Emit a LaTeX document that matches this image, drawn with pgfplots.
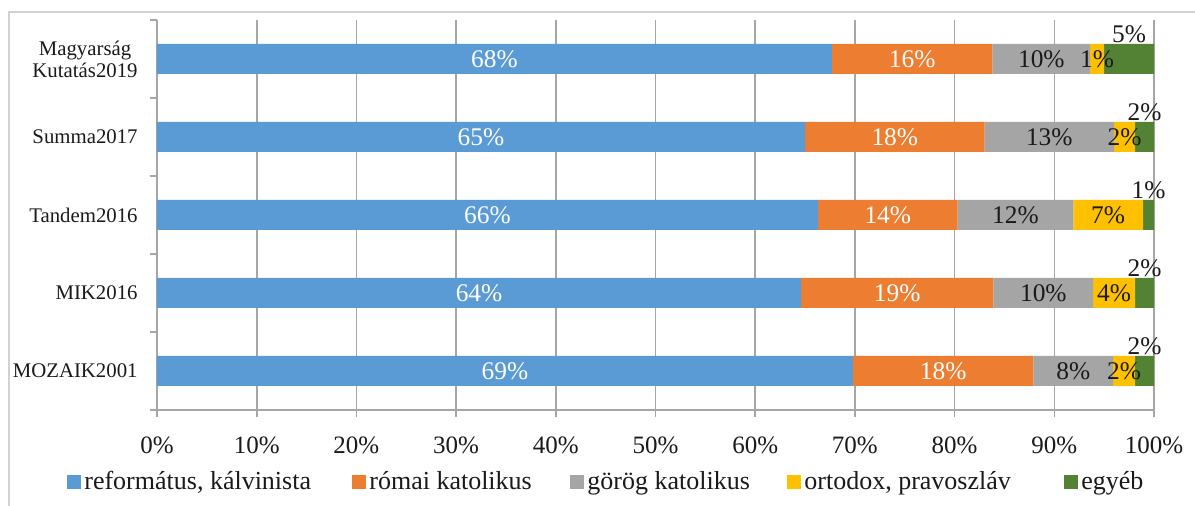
\documentclass[border=0pt]{standalone}
\usepackage{fontspec}
\setmainfont{Liberation Serif}
\usepackage{pgfplots}
\usepackage{pgfplotstable}
\pgfplotsset{compat=1.18}
\definecolor{cBlue}{HTML}{5B9BD5}
\definecolor{cOrange}{HTML}{ED7D31}
\definecolor{cGray}{HTML}{A5A5A5}
\definecolor{cYellow}{HTML}{FFC000}
\definecolor{cGreen}{HTML}{548235}
\definecolor{axgray}{HTML}{A6A6A6}
\definecolor{txt}{HTML}{1A1A1A}

% pos: 0=MOZAIK2001 ... 4=Magyarsag Kutatas2019
\pgfplotstableread{
pos val lab
0 69.8 69
1 64.6 64
2 66.3 66
3 65.0 65
4 67.7 68
}\tblue
\pgfplotstableread{
pos val lab
0 18.1 18
1 19.3 19
2 14.0 14
3 18.0 18
4 16.1 16
}\torange
\pgfplotstableread{
pos val lab
0 8.0 8
1 10.0 10
2 11.6 12
3 13.0 13
4 9.8 10
}\tgray
\pgfplotstableread{
pos val lab
0 2.2 2
1 4.2 4
2 7.0 7
3 2.1 2
4 1.4 1
}\tyellow
\pgfplotstableread{
pos val lab
0 1.9 2
1 1.9 2
2 1.1 1
3 1.9 2
4 5.0 5
}\tgreen

\pgfplotsset{
  legsq/.style={legend image code/.code={\fill[##1] (0pt,-3.5pt) rectangle (7pt,3.5pt);}},
}

\begin{document}
\begin{tikzpicture}
\useasboundingbox (0pt,0pt) rectangle (597.5pt,-253pt);
\fill[white] (0pt,0pt) rectangle (597.5pt,-253pt);
\draw[black!18, line width=0.8pt] (4.5pt,-253pt) -- (4.5pt,-6pt) -- (597.5pt,-6pt);
\begin{axis}[
  at={(78.5pt,-10pt)}, anchor=north west,
  scale only axis, width=498.5pt, height=195pt,
  xbar stacked, bar width=15pt,
  xmin=0, xmax=100, ymin=-0.5, ymax=4.5,
  axis lines*=left,
  axis line style={axgray, line width=0.8pt},
  xtick={0,10,...,100},
  xticklabels={0\%,10\%,20\%,30\%,40\%,50\%,60\%,70\%,80\%,90\%,100\%},
  xticklabel style={anchor=north, inner sep=0pt, yshift=-9.5pt, text=txt, font=\fontsize{12.5}{14}\selectfont},
  xmajorgrids, grid style={axgray, line width=0.8pt},
  tick align=outside, major tick length=3.5pt,
  tick style={axgray, line width=0.8pt},
  ytick={-0.5,0.5,1.5,2.5,3.5,4.5},
  yticklabels={MOZAIK2001,MIK2016,Tandem2016,Summa2017,{Magyarság\\Kutatás2019},{}},
  yticklabel style={align=center, anchor=east, inner sep=0pt, yshift=19.5pt, xshift=-6pt, text=txt, font=\fontsize{10.4}{11}\selectfont},
  point meta=explicit symbolic,
  nodes near coords={\pgfplotspointmeta\%},
  every node near coord/.append style={anchor=center, inner sep=0pt, text=txt, font=\fontsize{12.7}{14}\selectfont},
  legend columns=5,
  legend style={at={(-0.0903,-0.1846)}, anchor=west, draw=none, fill=none, inner sep=0pt,
    font=\fontsize{13}{15}\selectfont, text=txt,
    nodes={inner sep=0pt},
    /tikz/every odd column/.append style={column sep=1.5pt},
    /tikz/every even column/.append style={column sep=19pt}},
  legend cell align=left,
]
\addplot[fill=cBlue, draw=none, legsq, every node near coord/.append style={text=white}]
  table[x=val, y=pos, meta=lab] {\tblue};
\addlegendentry{\makebox[115pt][l]{református, kálvinista}}
\addplot[fill=cOrange, draw=none, legsq, every node near coord/.append style={text=white}]
  table[x=val, y=pos, meta=lab] {\torange};
\addlegendentry{\makebox[81.5pt][l]{római katolikus}}
\addplot[fill=cGray, draw=none, legsq]
  table[x=val, y=pos, meta=lab] {\tgray};
\addlegendentry{\makebox[81pt][l]{görög katolikus}}
\addplot[fill=cYellow, draw=none, legsq]
  table[x=val, y=pos, meta=lab] {\tyellow};
\addlegendentry{\makebox[111pt][l]{ortodox, pravoszláv}}
\addplot[fill=cGreen, draw=none, legsq, every node near coord/.append style={anchor=base, yshift=8pt}]
  table[x=val, y=pos, meta=lab] {\tgreen};
\addlegendentry{egyéb}
\end{axis}
\end{tikzpicture}
\end{document}
